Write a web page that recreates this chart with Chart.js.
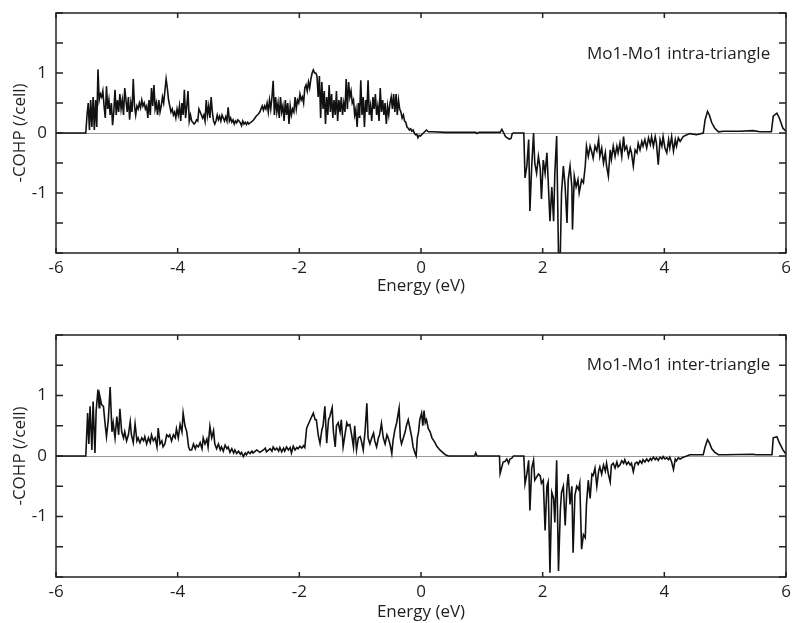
<!DOCTYPE html>
<html>
<head>
<meta charset="utf-8">
<script src="https://cdn.jsdelivr.net/npm/chart.js@4.4.0/dist/chart.umd.min.js"></script>
<style>
  html, body { margin: 0; padding: 0; background: #fff; }
  .panel { position: absolute; left: 0; width: 793px; }
  #top { top: 0; height: 311px; }
  #bottom { top: 311px; height: 312px; }
</style>
</head>
<body>
<div class="panel" id="top"><canvas id="intra"></canvas></div>
<div class="panel" id="bottom"><canvas id="inter"></canvas></div>
<script>
// [energy (eV), -COHP (/cell)]
const intraCohp = [
  [-6,0],[-5.51,0],[-5.49,0.3],[-5.47,0.5],[-5.45,0.05],[-5.43,0.55],[-5.41,0.1],[-5.39,0.6],
  [-5.37,0.05],[-5.35,0.55],[-5.33,0.1],[-5.31,1.06],[-5.29,0.55],[-5.27,0.65],[-5.25,0.6],
  [-5.23,0.7],[-5.21,0.45],[-5.19,0.25],[-5.17,0.78],[-5.15,0.4],[-5.13,0.55],[-5.11,0.3],
  [-5.09,0.5],[-5.07,0.13],[-5.05,0.35],[-5.03,0.72],[-5.01,0.3],[-4.99,0.55],[-4.97,0.35],
  [-4.95,0.65],[-4.93,0.4],[-4.91,0.55],[-4.89,0.3],[-4.87,0.75],[-4.85,0.55],[-4.83,0.35],
  [-4.81,0.6],[-4.79,0.22],[-4.77,0.5],[-4.75,0.35],[-4.73,0.9],[-4.71,0.45],[-4.69,0.3],
  [-4.67,0.45],[-4.65,0.4],[-4.63,0.5],[-4.61,0.42],[-4.59,0.55],[-4.57,0.45],[-4.55,0.5],
  [-4.53,0.4],[-4.51,0.45],[-4.49,0.25],[-4.47,0.55],[-4.45,0.3],[-4.43,0.75],[-4.41,0.45],
  [-4.39,0.8],[-4.37,0.4],[-4.35,0.5],[-4.33,0.3],[-4.31,0.55],[-4.29,0.35],[-4.27,0.45],
  [-4.25,0.6],[-4.23,0.5],[-4.21,0.7],[-4.19,0.9],[-4.17,0.75],[-4.15,0.55],[-4.13,0.45],
  [-4.11,0.35],[-4.09,0.4],[-4.07,0.3],[-4.05,0.35],[-4.03,0.25],[-4.01,0.4],[-3.99,0.3],
  [-3.97,0.45],[-3.95,0.2],[-3.93,0.5],[-3.91,0.3],[-3.89,0.72],[-3.87,0.25],[-3.85,0.45],
  [-3.83,0.7],[-3.81,0.2],[-3.79,0.3],[-3.77,0.2],[-3.75,0.18],[-3.73,0.15],[-3.71,0.17],
  [-3.69,0.22],[-3.67,0.2],[-3.65,0.4],[-3.63,0.35],[-3.61,0.3],[-3.59,0.25],[-3.57,0.3],
  [-3.55,0.2],[-3.53,0.55],[-3.51,0.3],[-3.49,0.45],[-3.47,0.25],[-3.45,0.6],[-3.43,0.35],
  [-3.41,0.2],[-3.39,0.15],[-3.37,0.2],[-3.35,0.3],[-3.33,0.22],[-3.31,0.28],[-3.29,0.2],
  [-3.27,0.3],[-3.25,0.25],[-3.23,0.2],[-3.21,0.27],[-3.19,0.2],[-3.17,0.43],[-3.15,0.2],
  [-3.13,0.25],[-3.11,0.18],[-3.09,0.22],[-3.07,0.15],[-3.05,0.2],[-3.03,0.17],[-3.01,0.22],
  [-2.99,0.2],[-2.97,0.17],[-2.95,0.12],[-2.93,0.2],[-2.91,0.15],[-2.89,0.18],[-2.87,0.14],
  [-2.85,0.18],[-2.83,0.15],[-2.81,0.17],[-2.79,0.18],[-2.77,0.2],[-2.75,0.22],[-2.73,0.25],
  [-2.71,0.28],[-2.69,0.3],[-2.67,0.32],[-2.65,0.35],[-2.63,0.4],[-2.61,0.45],[-2.59,0.38],
  [-2.57,0.45],[-2.55,0.4],[-2.53,0.5],[-2.51,0.35],[-2.49,0.55],[-2.47,0.4],[-2.45,0.6],
  [-2.43,0.87],[-2.41,0.3],[-2.39,0.6],[-2.37,0.35],[-2.35,0.5],[-2.33,0.25],[-2.31,0.6],
  [-2.29,0.35],[-2.27,0.45],[-2.25,0.2],[-2.23,0.55],[-2.21,0.3],[-2.19,0.5],[-2.17,0.15],
  [-2.15,0.45],[-2.13,0.3],[-2.11,0.4],[-2.09,0.35],[-2.07,0.6],[-2.05,0.4],[-2.03,0.55],
  [-2.01,0.5],[-1.99,0.65],[-1.97,0.55],[-1.95,0.6],[-1.93,0.5],[-1.91,0.75],[-1.89,0.8],
  [-1.87,0.7],[-1.85,0.85],[-1.83,0.75],[-1.81,0.9],[-1.79,1.0],[-1.77,1.05],[-1.75,1.0],
  [-1.73,1.0],[-1.71,0.95],[-1.69,0.6],[-1.67,0.95],[-1.65,0.25],[-1.63,0.85],[-1.61,0.4],
  [-1.59,0.7],[-1.57,0.15],[-1.55,0.6],[-1.53,0.3],[-1.51,0.8],[-1.49,0.35],[-1.47,0.65],
  [-1.45,0.25],[-1.43,0.55],[-1.41,0.3],[-1.39,0.7],[-1.37,0.2],[-1.35,0.55],[-1.33,0.35],
  [-1.31,0.6],[-1.29,0.3],[-1.27,0.5],[-1.25,0.35],[-1.23,0.9],[-1.21,0.4],[-1.19,0.85],
  [-1.17,0.6],[-1.15,0.7],[-1.13,0.5],[-1.11,0.55],[-1.09,0.3],[-1.07,0.4],[-1.05,0.1],
  [-1.03,0.5],[-1.01,0.25],[-0.99,0.88],[-0.97,0.3],[-0.95,0.6],[-0.93,0.1],[-0.91,0.55],
  [-0.89,0.35],[-0.87,0.88],[-0.85,0.3],[-0.83,0.45],[-0.81,0.2],[-0.79,0.6],[-0.77,0.4],
  [-0.75,0.65],[-0.73,0.3],[-0.71,0.45],[-0.69,0.2],[-0.67,0.75],[-0.65,0.35],[-0.63,0.55],
  [-0.61,0.3],[-0.59,0.5],[-0.57,0.15],[-0.55,0.45],[-0.53,0.3],[-0.51,0.5],[-0.49,0.6],
  [-0.47,0.4],[-0.45,0.65],[-0.43,0.35],[-0.41,0.65],[-0.39,0.3],[-0.37,0.55],[-0.35,0.4],
  [-0.33,0.35],[-0.31,0.25],[-0.29,0.3],[-0.27,0.2],[-0.25,0.18],[-0.23,0.1],[-0.21,0.08],
  [-0.19,0.05],[-0.17,0.07],[-0.15,0.03],[-0.13,0.05],[-0.11,0.0],[-0.09,-0.03],[-0.07,-0.02],
  [-0.05,-0.08],[-0.03,-0.04],[-0.01,-0.05],[0.02,-0.02],[0.06,0.02],[0.09,0.05],[0.12,0.02],
  [0.2,0.02],[0.4,0.01],[0.9,0.01],[0.92,-0.01],[0.95,0.01],[1.3,0.01],[1.33,0.06],[1.36,0.0],
  [1.39,-0.06],[1.42,-0.08],[1.45,-0.1],[1.48,-0.09],[1.5,-0.01],[1.52,0.0],[1.69,0.0],
  [1.71,-0.75],[1.74,-0.55],[1.77,-0.11],[1.79,-1.3],[1.82,-0.55],[1.85,0.0],[1.87,-0.5],
  [1.9,-0.67],[1.93,-0.39],[1.96,-0.6],[1.98,-1.1],[2.01,-0.45],[2.04,-0.67],[2.07,-0.33],
  [2.09,-0.78],[2.12,-1.47],[2.15,-0.9],[2.18,-1.47],[2.2,-0.67],[2.23,-0.05],[2.26,-2.0],
  [2.29,-2.0],[2.31,-1.0],[2.34,-0.55],[2.37,-0.9],[2.4,-1.5],[2.42,-0.78],[2.45,-0.55],
  [2.48,-0.9],[2.49,-1.61],[2.52,-0.72],[2.55,-0.9],[2.58,-0.78],[2.6,-1.0],[2.64,-0.78],
  [2.67,-0.83],[2.7,-0.55],[2.72,-0.22],[2.75,-0.39],[2.78,-0.22],[2.81,-0.33],[2.83,-0.42],
  [2.86,-0.22],[2.89,-0.3],[2.92,-0.11],[2.94,-0.39],[2.97,-0.25],[3.0,-0.5],[3.03,-0.33],
  [3.05,-0.55],[3.08,-0.72],[3.11,-0.28],[3.13,-0.44],[3.16,-0.22],[3.19,-0.39],[3.22,-0.22],
  [3.24,-0.33],[3.27,-0.17],[3.3,-0.39],[3.33,-0.06],[3.35,-0.28],[3.38,-0.22],[3.41,-0.39],
  [3.44,-0.25],[3.46,-0.33],[3.49,-0.55],[3.52,-0.28],[3.55,-0.33],[3.57,-0.17],[3.6,-0.28],
  [3.63,-0.14],[3.65,-0.22],[3.68,-0.11],[3.71,-0.25],[3.74,-0.08],[3.77,-0.19],[3.79,-0.06],
  [3.82,-0.22],[3.85,-0.06],[3.87,-0.17],[3.9,-0.53],[3.93,-0.11],[3.96,-0.22],[3.98,-0.06],
  [4.01,-0.25],[4.04,-0.33],[4.07,-0.11],[4.09,-0.25],[4.12,-0.06],[4.15,-0.3],[4.18,-0.11],
  [4.2,-0.22],[4.23,-0.08],[4.26,-0.14],[4.31,-0.06],[4.37,-0.03],[4.42,-0.01],[4.53,-0.03],
  [4.64,0.0],[4.67,0.22],[4.71,0.36],[4.74,0.3],[4.78,0.17],[4.83,0.08],[4.89,0.02],[4.97,0.03],
  [5.24,0.03],[5.46,0.04],[5.57,0.02],[5.76,0.02],[5.79,0.28],[5.85,0.33],[5.89,0.25],
  [5.95,0.08],[6.0,0.03]
];

const interCohp = [
  [-6,0],[-5.51,0],[-5.48,0.71],[-5.46,0.2],[-5.44,0.82],[-5.41,0.1],[-5.39,0.9],[-5.36,0.05],
  [-5.34,0.75],[-5.31,1.1],[-5.29,0.8],[-5.28,0.99],[-5.25,0.85],[-5.22,0.82],[-5.19,0.5],
  [-5.17,0.32],[-5.14,0.6],[-5.11,1.14],[-5.08,0.4],[-5.06,0.55],[-5.03,0.3],[-5.0,0.65],
  [-4.97,0.35],[-4.95,0.78],[-4.92,0.4],[-4.89,0.3],[-4.87,0.4],[-4.84,0.25],[-4.81,0.35],
  [-4.78,0.57],[-4.76,0.35],[-4.73,0.22],[-4.7,0.53],[-4.67,0.25],[-4.65,0.3],[-4.62,0.22],
  [-4.59,0.3],[-4.56,0.25],[-4.54,0.32],[-4.51,0.2],[-4.48,0.3],[-4.45,0.22],[-4.43,0.35],
  [-4.4,0.25],[-4.37,0.3],[-4.34,0.15],[-4.32,0.46],[-4.29,0.2],[-4.26,0.25],[-4.24,0.15],
  [-4.21,0.2],[-4.18,0.35],[-4.15,0.32],[-4.13,0.35],[-4.1,0.25],[-4.07,0.35],[-4.04,0.3],
  [-4.02,0.45],[-3.99,0.3],[-3.96,0.52],[-3.93,0.4],[-3.91,0.71],[-3.88,0.5],[-3.85,0.4],
  [-3.82,0.15],[-3.8,0.1],[-3.77,0.1],[-3.74,0.2],[-3.71,0.12],[-3.69,0.18],[-3.66,0.15],
  [-3.63,0.22],[-3.6,0.12],[-3.58,0.3],[-3.55,0.2],[-3.52,0.28],[-3.5,0.15],[-3.47,0.49],
  [-3.44,0.3],[-3.41,0.42],[-3.39,0.2],[-3.36,0.12],[-3.33,0.2],[-3.3,0.1],[-3.28,0.15],
  [-3.25,0.08],[-3.22,0.18],[-3.19,0.12],[-3.17,0.15],[-3.14,0.06],[-3.11,0.12],[-3.08,0.05],
  [-3.06,0.1],[-3.03,0.04],[-3.0,0.08],[-2.97,0.03],[-2.95,0.06],[-2.92,-0.01],[-2.89,0.05],
  [-2.87,0.02],[-2.84,0.07],[-2.81,0.04],[-2.78,0.08],[-2.76,0.05],[-2.7,0.1],[-2.65,0.06],
  [-2.59,0.1],[-2.56,0.13],[-2.54,0.07],[-2.48,0.12],[-2.45,0.08],[-2.43,0.15],[-2.4,0.1],
  [-2.37,0.13],[-2.34,0.08],[-2.32,0.14],[-2.29,0.07],[-2.26,0.13],[-2.24,0.08],[-2.21,0.15],
  [-2.18,0.1],[-2.15,0.14],[-2.13,0.05],[-2.1,0.16],[-2.07,0.1],[-2.04,0.14],[-2.02,0.12],
  [-1.99,0.16],[-1.96,0.13],[-1.93,0.17],[-1.91,0.14],[-1.88,0.46],[-1.82,0.6],[-1.77,0.71],
  [-1.74,0.6],[-1.72,0.6],[-1.69,0.35],[-1.66,0.21],[-1.63,0.43],[-1.61,0.5],[-1.58,0.82],
  [-1.55,0.21],[-1.52,0.6],[-1.5,0.65],[-1.46,0.8],[-1.44,0.4],[-1.41,0.15],[-1.39,0.5],
  [-1.36,0.55],[-1.33,0.4],[-1.31,0.6],[-1.28,0.15],[-1.25,0.35],[-1.22,0.55],[-1.2,0.5],
  [-1.17,0.52],[-1.14,0.35],[-1.11,0.15],[-1.09,0.5],[-1.06,0.1],[-1.03,0.3],[-1.0,0.32],
  [-0.98,0.25],[-0.95,0.1],[-0.92,0.4],[-0.89,0.87],[-0.87,0.3],[-0.84,0.2],[-0.81,0.3],
  [-0.78,0.38],[-0.76,0.25],[-0.73,0.15],[-0.7,0.3],[-0.68,0.35],[-0.65,0.54],[-0.62,0.3],
  [-0.59,0.2],[-0.56,0.35],[-0.54,0.3],[-0.51,0.2],[-0.48,0.04],[-0.46,0.25],[-0.43,0.43],
  [-0.4,0.55],[-0.36,0.79],[-0.34,0.3],[-0.32,0.2],[-0.29,0.3],[-0.26,0.4],[-0.24,0.5],
  [-0.21,0.6],[-0.18,0.45],[-0.15,0.3],[-0.13,0.15],[-0.1,0.05],[-0.08,0.0],[-0.06,0.3],
  [-0.04,0.4],[-0.02,0.6],[0.01,0.71],[0.03,0.5],[0.05,0.75],[0.07,0.55],[0.09,0.6],
  [0.12,0.45],[0.15,0.4],[0.18,0.3],[0.23,0.22],[0.26,0.16],[0.31,0.1],[0.4,0.02],[0.45,0.0],
  [0.88,0.0],[0.9,0.05],[0.92,0.0],[1.29,0.0],[1.3,-0.29],[1.35,-0.1],[1.38,-0.09],
  [1.41,-0.05],[1.44,-0.12],[1.46,-0.05],[1.49,-0.04],[1.52,0.0],[1.69,0.0],[1.71,-0.46],
  [1.74,-0.3],[1.77,-0.07],[1.79,-0.9],[1.82,-0.2],[1.85,-0.07],[1.87,-0.4],[1.9,-0.35],
  [1.93,-0.3],[1.96,-0.33],[1.98,-0.45],[2.01,-0.4],[2.04,-1.23],[2.07,-0.5],[2.09,-0.43],
  [2.12,-1.93],[2.15,-0.6],[2.18,-0.7],[2.2,-1.1],[2.23,-0.07],[2.26,-1.9],[2.29,-0.9],
  [2.31,-0.6],[2.34,-0.5],[2.37,-1.15],[2.4,-0.5],[2.42,-0.3],[2.45,-0.8],[2.48,-0.5],
  [2.5,-1.6],[2.53,-0.65],[2.56,-0.5],[2.59,-0.55],[2.61,-0.45],[2.64,-1.54],[2.67,-1.3],
  [2.7,-1.35],[2.72,-0.8],[2.75,-0.4],[2.78,-0.7],[2.81,-0.3],[2.83,-0.32],[2.86,-0.2],
  [2.89,-0.5],[2.92,-0.25],[2.94,-0.18],[2.97,-0.3],[3.0,-0.15],[3.03,-0.25],[3.05,-0.12],
  [3.08,-0.3],[3.11,-0.43],[3.13,-0.15],[3.16,-0.12],[3.19,-0.2],[3.22,-0.1],[3.24,-0.18],
  [3.27,-0.15],[3.3,-0.08],[3.33,-0.12],[3.35,-0.06],[3.38,-0.14],[3.41,-0.1],[3.44,-0.15],
  [3.46,-0.12],[3.49,-0.26],[3.52,-0.12],[3.55,-0.1],[3.57,-0.14],[3.6,-0.08],[3.63,-0.12],
  [3.65,-0.06],[3.68,-0.1],[3.71,-0.05],[3.74,-0.09],[3.77,-0.04],[3.79,-0.07],[3.82,-0.02],
  [3.85,-0.06],[3.87,-0.03],[3.9,-0.07],[3.93,-0.02],[3.96,-0.05],[3.98,-0.01],[4.01,-0.05],
  [4.04,-0.03],[4.07,-0.06],[4.09,-0.02],[4.12,-0.1],[4.15,-0.22],[4.18,-0.05],[4.2,-0.08],
  [4.23,-0.03],[4.26,-0.05],[4.31,-0.02],[4.37,0.0],[4.42,0.02],[4.64,0.02],[4.67,0.15],
  [4.71,0.27],[4.74,0.22],[4.78,0.12],[4.83,0.06],[4.89,0.02],[5.0,0.02],[5.46,0.03],
  [5.5,0.02],[5.77,0.02],[5.79,0.3],[5.85,0.32],[5.89,0.22],[5.95,0.1],[6.0,0.03]
];

const panelLabels = ['Mo1-Mo1 intra-triangle', 'Mo1-Mo1 inter-triangle'];
const labelPos = [[5.74, 1.32], [5.74, 1.5]];
const xTickLabels = ['-6', '-4', '-2', '0', '2', '4', '6'];
const yTickLabels = { '-1': '-1', '0': '0', '1': '1' };

const FONT = '"Open Sans", "DejaVu Sans", sans-serif';
const TEXT = '#1f1f1f';
const SIZE = 17;

// frame, inward ticks and panel label
const framePlugin = {
  id: 'frame',
  afterDatasetsDraw(chart, args, opts) {
    const { ctx, chartArea: a, scales: { x, y } } = chart;
    ctx.save();
    ctx.strokeStyle = '#222';
    ctx.lineWidth = 1.5;
    ctx.beginPath();
    x.ticks.forEach((t) => {
      const px = x.getPixelForValue(t.value);
      ctx.moveTo(px, a.bottom); ctx.lineTo(px, a.bottom - 5);
      ctx.moveTo(px, a.top); ctx.lineTo(px, a.top + 5);
    });
    y.ticks.forEach((t) => {
      const py = y.getPixelForValue(t.value);
      ctx.moveTo(a.left, py); ctx.lineTo(a.left + 7, py);
      ctx.moveTo(a.right, py); ctx.lineTo(a.right - 7, py);
    });
    ctx.stroke();
    ctx.strokeRect(a.left, a.top, a.right - a.left, a.bottom - a.top);
    ctx.fillStyle = TEXT;
    ctx.font = SIZE + 'px ' + FONT;
    ctx.textAlign = 'right';
    ctx.textBaseline = 'middle';
    ctx.fillText(opts.text, x.getPixelForValue(opts.at[0]), y.getPixelForValue(opts.at[1]));
    ctx.restore();
  }
};

function makeChart(id, points, label, at, padTop, xHeight, tickPad, titlePad) {
  return new Chart(document.getElementById(id), {
    type: 'line',
    data: {
      datasets: [{
        data: points.map(([e, v]) => ({ x: e, y: v })),
        borderColor: '#111',
        borderWidth: 1.6,
        pointRadius: 0,
        tension: 0,
      }],
    },
    options: {
      responsive: true,
      maintainAspectRatio: false,
      animation: false,
      events: [],
      layout: { padding: { left: 0, right: 7, top: padTop, bottom: 0 } },
      plugins: {
        legend: { display: false },
        tooltip: { enabled: false },
        frame: { text: label, at: at },
      },
      scales: {
        x: {
          type: 'linear',
          min: -6,
          max: 6,
          afterFit: (s) => { s.height = xHeight; s.paddingLeft = 0; s.paddingRight = 0; },
          border: { display: false },
          grid: { display: false },
          ticks: {
            stepSize: 2,
            padding: tickPad,
            color: TEXT,
            font: { family: FONT, size: SIZE },
            maxRotation: 0,
            autoSkip: false,
            callback: (v, i) => xTickLabels[i],
          },
          title: {
            display: true,
            text: 'Energy (eV)',
            color: TEXT,
            font: { family: FONT, size: SIZE },
            padding: { top: 0, bottom: titlePad },
          },
        },
        y: {
          min: -2,
          max: 2,
          afterFit: (s) => { s.width = 56; s.paddingTop = 0; s.paddingBottom = 0; },
          border: { display: false },
          grid: {
            drawTicks: false,
            color: (c) => (c.tick && c.tick.value === 0 ? '#9a9a9a' : 'rgba(0,0,0,0)'),
            lineWidth: 1,
          },
          ticks: {
            stepSize: 0.5,
            padding: 9,
            color: TEXT,
            font: { family: FONT, size: SIZE },
            autoSkip: false,
            callback: (v) => yTickLabels[String(v)] || '',
          },
          title: {
            display: true,
            text: '-COHP (/cell)',
            color: TEXT,
            font: { family: FONT, size: SIZE },
            padding: { top: 10, bottom: 0 },
          },
        },
      },
    },
    plugins: [framePlugin],
  });
}

makeChart('intra', intraCohp, panelLabels[0], labelPos[0], 13, 58, -3, 15);
makeChart('inter', interCohp, panelLabels[1], labelPos[1], 24, 46, -3, 1);
</script>
</body>
</html>
